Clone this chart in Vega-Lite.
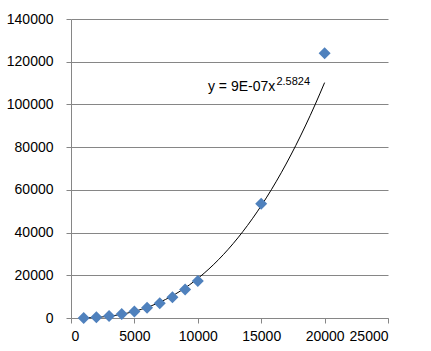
{
  "$schema": "https://vega.github.io/schema/vega-lite/v6.json",
  "autosize": "none",
  "width": 317,
  "height": 299,
  "padding": {"left": 71, "top": 19, "right": 43, "bottom": 33},
  "background": "white",
  "config": {
    "view": {"stroke": null},
    "font": "Liberation Sans",
    "axis": {
      "labelFont": "Liberation Sans",
      "labelFontSize": 14,
      "labelColor": "#000000",
      "domainColor": "#868686",
      "tickColor": "#868686",
      "gridColor": "#868686",
      "tickSize": 5,
      "format": "d",
      "title": null
    }
  },
  "datasets": {
    "pts": [
      {"x": 1000, "y": 48},
      {"x": 2000, "y": 300},
      {"x": 3000, "y": 900},
      {"x": 4000, "y": 1900},
      {"x": 5000, "y": 3100},
      {"x": 6000, "y": 4800},
      {"x": 7000, "y": 6900},
      {"x": 8000, "y": 9700},
      {"x": 9000, "y": 13300},
      {"x": 10000, "y": 17300},
      {"x": 15000, "y": 53500},
      {"x": 20000, "y": 124000}
    ],
    "lbl": [
      {"x": 10800, "y": 106400, "t": "y = 9E-07x", "sup": "2.5824", "xs": 16200, "ys": 109200}
    ]
  },
  "layer": [
    {
      "data": {"name": "pts"},
      "transform": [{"regression": "y", "on": "x", "method": "pow", "extent": [1000, 20000]}],
      "mark": {"type": "line", "color": "#000000", "strokeWidth": 1, "interpolate": "monotone"},
      "encoding": {
        "x": {"field": "x", "type": "quantitative", "scale": {"domain": [0, 25000], "nice": false}, "axis": {"values": [0, 5000, 10000, 15000, 20000, 25000], "grid": false, "labelPadding": 6}},
        "y": {"field": "y", "type": "quantitative", "scale": {"domain": [0, 140000], "nice": false}, "axis": {"values": [0, 20000, 40000, 60000, 80000, 100000, 120000, 140000], "grid": true, "labelPadding": 13}}
      }
    },
    {
      "data": {"name": "pts"},
      "mark": {"type": "point", "shape": "diamond", "filled": true, "color": "#4F81BD", "size": 144, "opacity": 1},
      "encoding": {
        "x": {"field": "x", "type": "quantitative"},
        "y": {"field": "y", "type": "quantitative"}
      }
    },
    {
      "data": {"name": "lbl"},
      "mark": {"type": "text", "align": "left", "baseline": "alphabetic", "fontSize": 14, "color": "#000000"},
      "encoding": {
        "x": {"field": "x", "type": "quantitative"},
        "y": {"field": "y", "type": "quantitative"},
        "text": {"field": "t"}
      }
    },
    {
      "data": {"name": "lbl"},
      "mark": {"type": "text", "align": "left", "baseline": "alphabetic", "fontSize": 11, "color": "#000000"},
      "encoding": {
        "x": {"field": "xs", "type": "quantitative"},
        "y": {"field": "ys", "type": "quantitative"},
        "text": {"field": "sup"}
      }
    }
  ]
}
